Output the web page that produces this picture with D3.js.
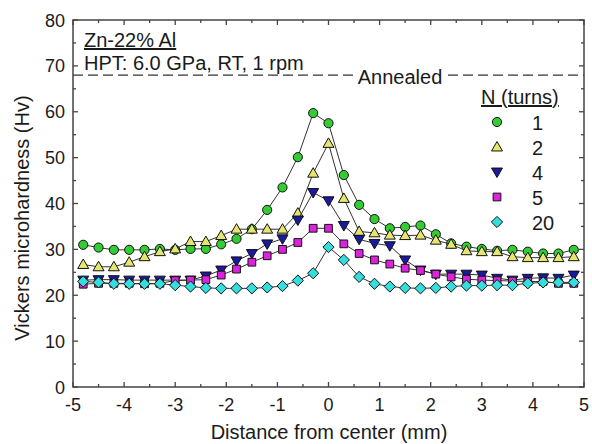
<!DOCTYPE html>
<html><head><meta charset="utf-8">
<script src="https://cdn.jsdelivr.net/npm/d3@7"></script>
<style>body{margin:0;background:#fff}svg{display:block}</style>
</head><body>
<svg id="c" width="592" height="444"></svg>
<script>
const xs = [-4.8,-4.5,-4.2,-3.9,-3.6,-3.3,-3.0,-2.7,-2.4,-2.1,-1.8,-1.5,-1.2,-0.9,-0.6,-0.3,0,0.3,0.6,0.9,1.2,1.5,1.8,2.1,2.4,2.7,3.0,3.3,3.6,3.9,4.2,4.5,4.8];
const n1  = [31.0,30.4,29.9,29.9,29.9,30.1,29.9,30.1,30.1,31.1,32.3,34.4,38.6,43.5,50.1,59.7,57.5,46.2,39.7,36.6,34.6,34.9,35.2,33.3,31.3,30.6,30.1,29.7,29.9,29.5,29.1,29.1,29.9];
const n2  = [26.7,26.2,26.2,27.2,28.4,29.5,30.1,31.7,31.7,33.0,34.4,34.4,34.4,34.4,37.9,46.6,53.1,41.1,33.9,33.6,33.1,33.0,33.1,32.0,31.1,29.7,29.5,29.5,28.4,28.2,28.2,28.2,28.4];
const n4  = [23.3,23.4,23.4,23.3,23.3,23.3,23.3,23.3,24.2,25.5,27.5,29.1,31.2,32.3,36.4,42.4,40.6,35.2,32.2,31.3,30.8,27.7,25.5,24.6,24.6,24.6,24.4,23.7,23.3,23.7,23.8,23.7,24.4];
const n5  = [22.4,22.6,22.6,22.6,22.5,22.6,23.2,23.3,23.4,24.4,25.7,27.2,28.6,30.0,31.5,34.6,34.6,31.2,29.1,27.7,26.8,25.9,25.4,24.6,24.0,23.5,23.3,23.2,23.1,23.0,23.0,22.6,22.6];
const n20 = [23.0,22.8,22.5,22.5,22.5,22.5,22.2,21.9,21.6,21.5,21.5,21.5,21.7,22.0,23.2,24.8,30.5,27.7,24.0,22.5,21.9,21.6,21.5,21.6,21.9,22.1,22.1,22.2,22.2,22.6,22.8,22.8,22.8];
const seriesNames = ["1","2","4","5","20"];
const seriesColors = ["#33cc33","#e6e66e","#1a1aa0","#dd22dd","#33dede"];
const seriesSymbols = ["circle","triangle","triangleDown","square","diamond"];
const xTicks = [-5,-4,-3,-2,-1,0,1,2,3,4,5];
const yTicks = [0,10,20,30,40,50,60,70,80];
const annealed = 68;

const svg = d3.select("#c");
const font = "'Liberation Sans', Arial, sans-serif";
const L=73,R=584,T=20,B=387;
const x = d3.scaleLinear().domain([-5,5]).range([L,R]);
const y = d3.scaleLinear().domain([0,80]).range([B,T]);
const axisCol = "#444";
const txtCol = "#1a1a1a";

// frame
svg.append("rect").attr("x",L).attr("y",T).attr("width",R-L).attr("height",B-T)
  .attr("fill","none").attr("stroke",axisCol).attr("stroke-width",1.5);

// ticks
const g = svg.append("g").attr("stroke",axisCol).attr("stroke-width",1.3);
d3.range(-5,5.01,0.5).forEach(v=>{
  const maj = Math.abs(v-Math.round(v))<1e-6; const len = maj?5:3;
  g.append("line").attr("x1",x(v)).attr("x2",x(v)).attr("y1",B).attr("y2",B-len);
  g.append("line").attr("x1",x(v)).attr("x2",x(v)).attr("y1",T).attr("y2",T+len);
});
d3.range(0,80.01,5).forEach(v=>{
  const maj = v%10===0; const len = maj?5:3;
  g.append("line").attr("y1",y(v)).attr("y2",y(v)).attr("x1",L).attr("x2",L+len);
  g.append("line").attr("y1",y(v)).attr("y2",y(v)).attr("x1",R).attr("x2",R-len);
});
// tick labels
svg.append("g").selectAll("text").data(xTicks).join("text")
  .attr("x",d=>x(d)).attr("y",B+24).attr("text-anchor","middle")
  .attr("font-family",font).attr("font-size",18).attr("fill",txtCol).text(d=>d);
svg.append("g").selectAll("text").data(yTicks).join("text")
  .attr("x",L-8).attr("y",d=>y(d)+6.5).attr("text-anchor","end")
  .attr("font-family",font).attr("font-size",18).attr("fill",txtCol).text(d=>d);
// axis titles
svg.append("text").attr("x",329).attr("y",439).attr("text-anchor","middle")
  .attr("font-family",font).attr("font-size",20).attr("fill",txtCol).text("Distance from center (mm)");
svg.append("text").attr("transform",`translate(29,218) rotate(-90)`).attr("text-anchor","middle")
  .attr("font-family",font).attr("font-size",20).attr("fill",txtCol).text("Vickers microhardness (Hv)");

// annealed line
svg.append("line").attr("x1",L).attr("x2",R).attr("y1",y(annealed)).attr("y2",y(annealed))
  .attr("stroke","#333").attr("stroke-width",1.3).attr("stroke-dasharray","10,5");
svg.append("rect").attr("x",353).attr("y",y(annealed)-6).attr("width",94).attr("height",16).attr("fill","#fff");
svg.append("text").attr("x",400).attr("y",y(annealed)+9).attr("text-anchor","middle")
  .attr("font-family",font).attr("font-size",20).attr("fill",txtCol).text("Annealed");

// annotation
svg.append("text").attr("x",84).attr("y",47).attr("font-family",font).attr("font-size",20)
  .attr("fill",txtCol).attr("text-decoration","underline").text("Zn-22% Al");
svg.append("text").attr("x",84).attr("y",70).attr("font-family",font).attr("font-size",20)
  .attr("fill",txtCol).text("HPT: 6.0 GPa, RT, 1 rpm");

// data
const allSeries = [n1,n2,n4,n5,n20];
const line = d3.line().x(d=>x(d[0])).y(d=>y(d[1]));
function symPath(s){
  if(s==="circle") return d3.symbol().type(d3.symbolCircle).size(66)();
  if(s==="triangle"||s==="triangleDown") return d3.symbol().type(d3.symbolTriangle).size(52)();
  if(s==="square") return d3.symbol().type(d3.symbolSquare).size(60)();
  const r=5.6; return `M0,${-r}L${r},0L0,${r}L${-r},0Z`;
}
function drawSym(sel, i, cx, cy){
  const s = seriesSymbols[i];
  sel.append("path").attr("d", symPath(s))
    .attr("transform",`translate(${cx},${cy + (s==="triangle"?0.8:0) + (s==="triangleDown"?-0.8:0)})${s==="triangleDown"?" rotate(180)":""}`)
    .attr("fill",seriesColors[i]).attr("stroke","#111").attr("stroke-width",1);
}
allSeries.forEach((vals,i)=>{
  const pts = xs.map((v,j)=>[v,vals[j]]);
  const sg = svg.append("g");
  sg.append("path").attr("d",line(pts)).attr("fill","none").attr("stroke","#333").attr("stroke-width",1);
  pts.forEach(p=>drawSym(sg,i,x(p[0]),y(p[1])));
});

// legend
svg.append("text").attr("x",481).attr("y",104).attr("font-family",font).attr("font-size",20)
  .attr("fill",txtCol).attr("text-decoration","underline").text("N (turns)");
seriesNames.forEach((nm,i)=>{
  const cy = 122 + i*25;
  drawSym(svg,i,497,cy);
  svg.append("text").attr("x",532).attr("y",cy+8).attr("font-family",font).attr("font-size",20)
    .attr("fill",txtCol).text(nm);
});
</script>
</body></html>
